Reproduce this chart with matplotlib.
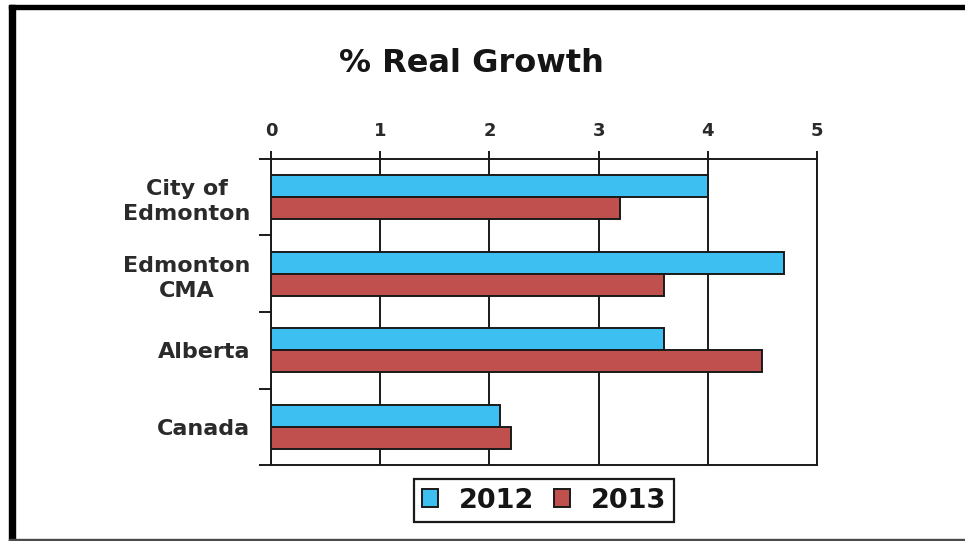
import matplotlib
matplotlib.use("Agg")
import matplotlib.pyplot as plt
from matplotlib.patches import Rectangle
import numpy as np

# Data
categories = ["City of\nEdmonton", "Edmonton\nCMA", "Alberta", "Canada"]
growth_2012 = [4.0, 4.7, 3.6, 2.1]
growth_2013 = [3.2, 3.6, 4.5, 2.2]
series_labels = ["2012", "2013"]
x_ticks = [0, 1, 2, 3, 4, 5]

blue = "#3DBFF2"
red = "#C0504D"
edge = "#1a1a1a"
text_col = "#2a2a2a"

W, H = 965, 541
fig = plt.figure(figsize=(W / 100, H / 100), dpi=100)
fig.patch.set_facecolor("white")

plt.rcParams["font.family"] = ["DejaVu Sans"]

ax = fig.add_axes([271 / W, 1 - 465 / H, (817 - 271) / W, (465 - 159) / H])

y = np.arange(len(categories))
bh = 0.29
ax.barh(y - bh / 2, growth_2012, height=bh, color=blue, edgecolor=edge,
        linewidth=1.4, label=series_labels[0], zorder=3)
ax.barh(y + bh / 2, growth_2013, height=bh, color=red, edgecolor=edge,
        linewidth=1.4, label=series_labels[1], zorder=3)

ax.set_xlim(0, 5)
ax.set_ylim(len(categories) - 0.5, -0.5)

# x axis on top
ax.xaxis.set_ticks_position("top")
ax.xaxis.set_label_position("top")
ax.set_xticks(x_ticks)
ax.set_xticklabels([str(t) for t in x_ticks], fontsize=13, fontweight="bold",
                   color=text_col)
ax.tick_params(axis="x", direction="out", length=6, width=1.4, color=edge, pad=8)
ax.grid(axis="x", color=edge, linewidth=1.4, zorder=0)

# y axis: ticks at category boundaries, labels at centres
ax.set_yticks(np.arange(-0.5, len(categories), 1.0))
ax.set_yticklabels([])
ax.tick_params(axis="y", which="major", direction="out", length=9, width=1.4, color=edge)
ax.set_yticks(y, minor=True)
ax.set_yticklabels(categories, minor=True, fontsize=16, fontweight="bold",
                   color=text_col)
ax.tick_params(axis="y", which="minor", length=0, pad=15)
for lab in ax.get_yticklabels(minor=True):
    lab.set_multialignment("center")
    lab.set_linespacing(1.3)

for s in ["left", "right", "top", "bottom"]:
    ax.spines[s].set_color(edge)
    ax.spines[s].set_linewidth(1.4)

# Title
fig.text(471 / W, 1 - 64 / H, "% Real Growth", ha="center", va="center",
         fontsize=23, fontweight="bold", color="#151515")

# Legend
leg = fig.legend(loc="center", bbox_to_anchor=(544 / W, 1 - 500.5 / H), ncol=2,
                 prop={"size": 19.5, "weight": "bold"}, frameon=True, fancybox=False,
                 framealpha=1, handlelength=0.6, handleheight=0.6, handletextpad=0.75,
                 columnspacing=0.75, borderpad=0.3, borderaxespad=0)
leg.get_frame().set_edgecolor(edge)
leg.get_frame().set_linewidth(1.6)
for t in leg.get_texts():
    t.set_color("#151515")

# Page frame
fig.patches.append(Rectangle((9 / W, 1 - 9 / H), 1 - 9 / W, 4 / H,
                             transform=fig.transFigure, color="black", zorder=10))
fig.patches.append(Rectangle((9 / W, 0), 6 / W, 1 - 5 / H,
                             transform=fig.transFigure, color="black", zorder=10))
fig.patches.append(Rectangle((9 / W, 0), 1 - 9 / W, 2.5 / H,
                             transform=fig.transFigure, color="#4a4a4a", zorder=10))

fig.savefig("out.png", dpi=100, facecolor=fig.get_facecolor())
